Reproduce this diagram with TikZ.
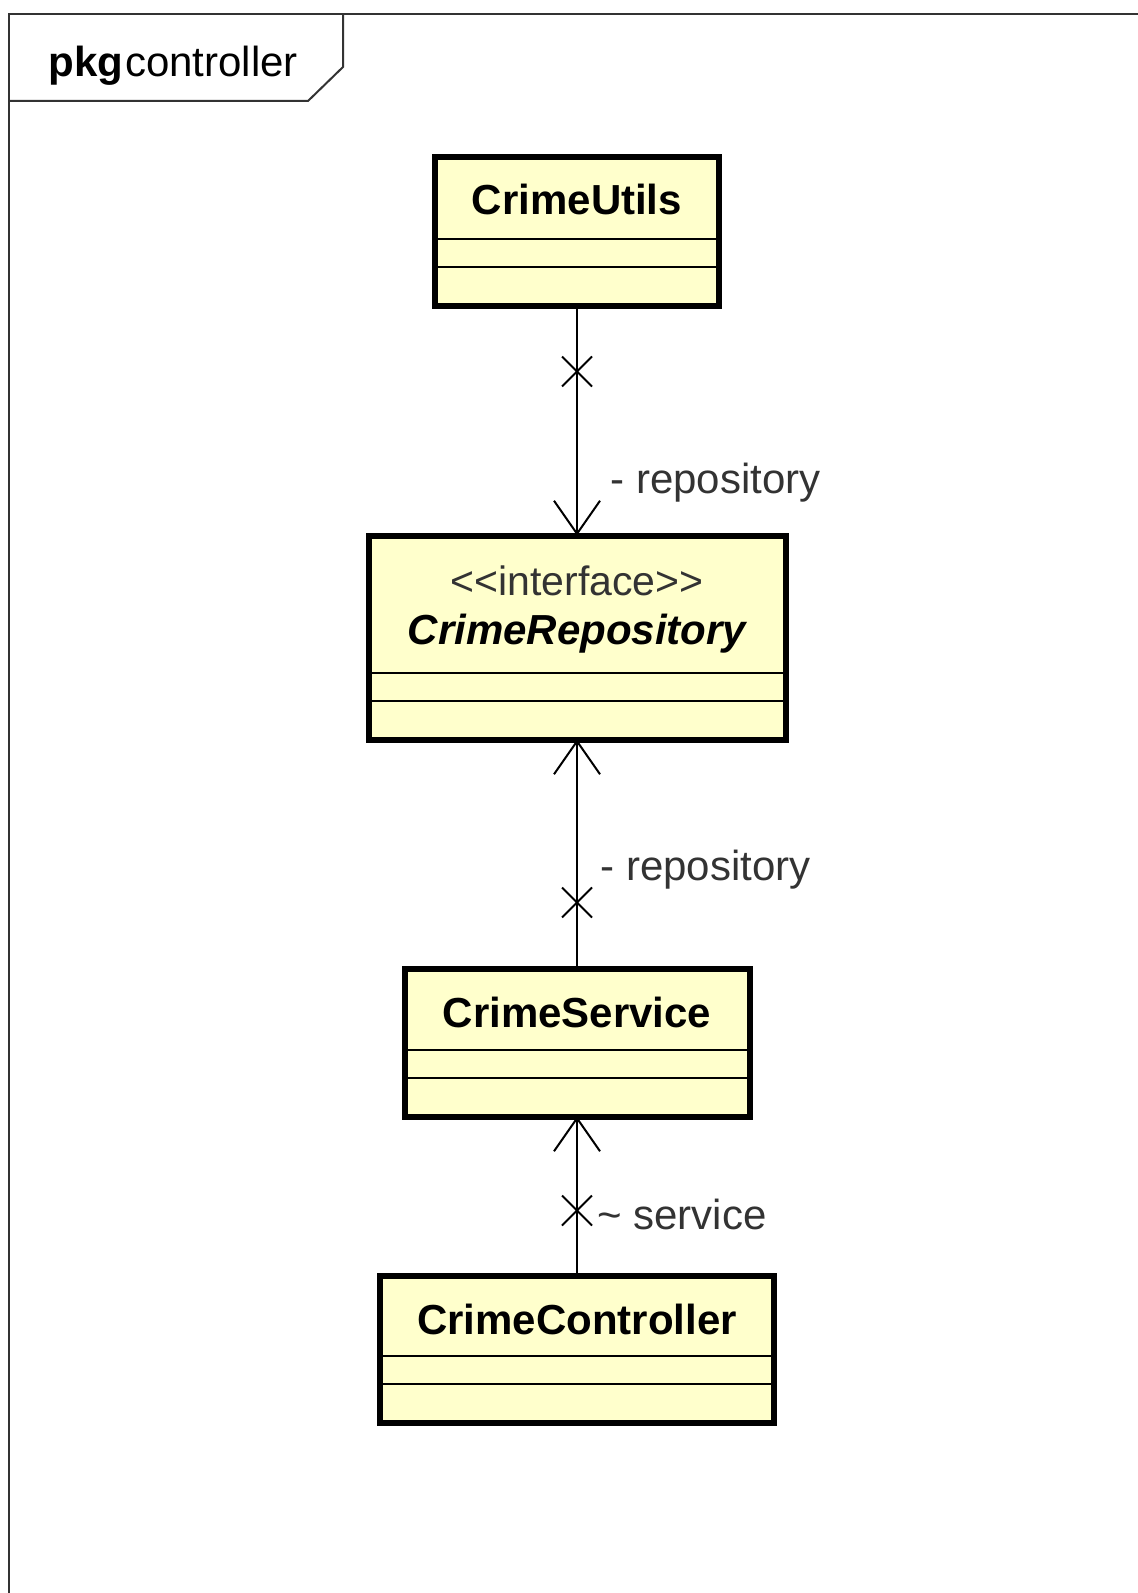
\documentclass[tikz,border=0pt]{standalone}
\usepackage{fontspec}
\setmainfont{Liberation Sans}
\usetikzlibrary{positioning,arrows.meta,shapes.misc}
\definecolor{classfill}{RGB}{255,255,204}
\definecolor{framegray}{RGB}{51,51,51}

\tikzset{
  classbox/.style={rectangle, draw=black, line width=3pt, fill=classfill, inner sep=0pt, outer sep=0pt},
  classname/.style={inner sep=0pt, font=\fontsize{21}{25}\selectfont\bfseries},
  divider/.style={line width=1pt},
  assoc/.style={line width=1pt, -{Straight Barb[length=16.5pt, width=23pt, line width=1pt]}},
  xmark/.style={cross out, draw, line width=1pt, minimum size=14pt, inner sep=0pt},
  rolename/.style={inner sep=0pt, anchor=west, text=framegray, font=\fontsize{21}{25}\selectfont},
}

\begin{document}
\begin{tikzpicture}[x=0.5pt, y=-0.5pt]
\useasboundingbox (0,0) rectangle (1138,1593);

% package frame
\draw[framegray, line width=1pt] (1138,14) -- (9,14) -- (9,1593);
\draw[framegray, line width=1pt] (9,101) -- (308,101) -- (343,67) -- (343,14);
\node[anchor=west, inner sep=0pt, font=\fontsize{21}{25}\selectfont] (pkgtitle) at (48,66) {\textbf{pkg}\hspace{1pt}controller};

% classes
\node[classbox, minimum width=142pt, minimum height=74.5pt] (utils) at (577,232) {};
\node[classbox, minimum width=208.5pt, minimum height=102pt] (repo) at (577,637.5) {};
\node[classbox, minimum width=172.5pt, minimum height=74pt] (service) at (577,1042.5) {};
\node[classbox, minimum width=197pt, minimum height=73.5pt] (controller) at (577,1349) {};

\node[classname] (utilsname) at ([yshift=-21pt]utils.north) {CrimeUtils};
\node[inner sep=0pt, text=framegray, font=\fontsize{20.5}{25}\selectfont] (repostereo) at ([yshift=-22.5pt]repo.north) {<\kern0pt<interface>\kern0pt>};
\node[classname, font=\fontsize{21}{25}\selectfont\bfseries\itshape] (reponame) at ([yshift=-49pt]repo.north) {CrimeRepository};
\node[classname] (servicename) at ([yshift=-22pt]service.north) {CrimeService};
\node[classname] (controllername) at ([yshift=-22pt]controller.north) {CrimeController};

\foreach \c in {utils,repo,service,controller}{
  \draw[divider] ([yshift=33.5pt]\c.south west) -- ([yshift=33.5pt]\c.south east);
  \draw[divider] ([yshift=19.5pt]\c.south west) -- ([yshift=19.5pt]\c.south east);
}

% associations
\draw[assoc] (utils.south) -- (repo.north);
\node[xmark] (x1) at ([yshift=-32.5pt]utils.south) {};
\draw[assoc] (service.north) -- (repo.south);
\node[xmark] (x2) at ([yshift=33pt]service.north) {};
\draw[assoc] (controller.north) -- (service.south);
\node[xmark] (x3) at ([yshift=32.5pt]controller.north) {};

\node[rolename] (role1) at (610,483) {- repository};
\node[rolename] (role2) at (600,870) {- repository};
\node[rolename] (role3) at (597,1214) {\textasciitilde{} service};

\end{tikzpicture}
\end{document}
